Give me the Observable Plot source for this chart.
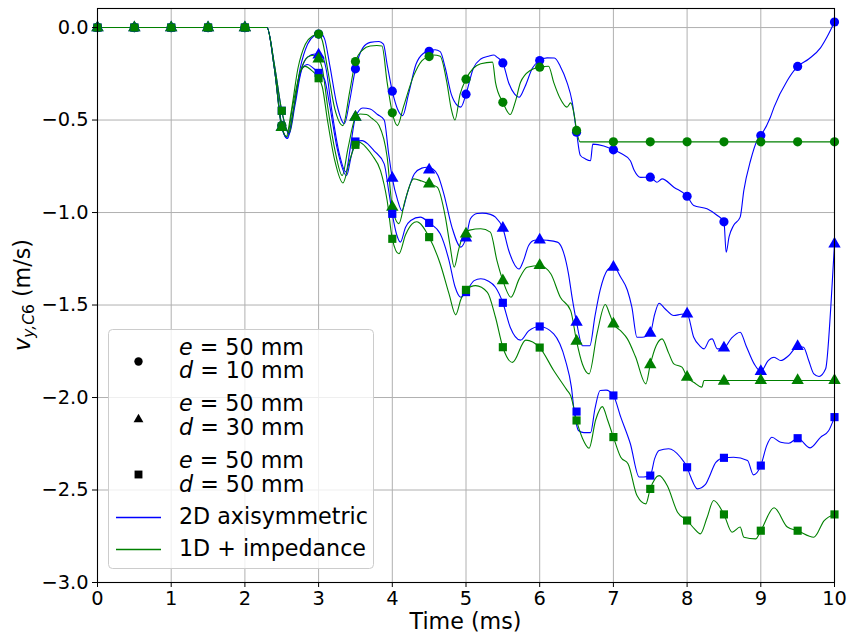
<!DOCTYPE html>
<html><head><meta charset="utf-8">
<script src="https://cdn.jsdelivr.net/npm/d3@7"></script>
<script src="https://cdn.jsdelivr.net/npm/@observablehq/plot@0.6"></script>
<style>body{margin:0;background:#fff} svg{display:block}</style>
</head><body><div id="chart"></div>
<script>
// ---- data (time in ms, velocity in m/s) ----
const xTicks = [0,1,2,3,4,5,6,7,8,9,10];
const yTicks = [0,-0.5,-1,-1.5,-2,-2.5,-3];
const markerT = [0,0.5,1,1.5,2,2.5,3,3.5,4,4.5,5,5.5,6,6.5,7,7.5,8,8.5,9,9.5,10];

const blue10 = [[0,0],[2.3,0],[2.4,-0.22],[2.5,-0.53],[2.57,-0.60],[2.65,-0.47],[2.75,-0.22],[2.85,-0.09],[2.95,-0.04],[3.02,-0.03],[3.08,-0.06],[3.15,-0.2],[3.25,-0.42],[3.35,-0.52],[3.42,-0.4],[3.5,-0.223],[3.6,-0.11],[3.7,-0.08],[3.82,-0.075],[3.88,-0.09],[3.93,-0.2],[4.0,-0.344],[4.07,-0.44],[4.14,-0.476],[4.22,-0.36],[4.32,-0.2],[4.42,-0.14],[4.5,-0.128],[4.58,-0.12],[4.65,-0.13],[4.72,-0.22],[4.8,-0.36],[4.88,-0.42],[4.93,-0.43],[5.0,-0.36],[5.1,-0.22],[5.2,-0.17],[5.3,-0.155],[5.38,-0.148],[5.42,-0.16],[5.5,-0.191],[5.58,-0.3],[5.66,-0.36],[5.72,-0.377],[5.8,-0.32],[5.9,-0.22],[6.0,-0.178],[6.1,-0.164],[6.2,-0.165],[6.28,-0.21],[6.37,-0.296],[6.44,-0.40],[6.5,-0.566],[6.55,-0.69],[6.62,-0.71],[6.69,-0.72],[6.72,-0.63],[6.87,-0.64],[7.0,-0.661],[7.1,-0.68],[7.23,-0.72],[7.28,-0.77],[7.37,-0.81],[7.5,-0.809],[7.59,-0.836],[7.66,-0.818],[7.82,-0.863],[8.0,-0.912],[8.09,-0.962],[8.27,-0.98],[8.41,-1.016],[8.5,-1.05],[8.53,-1.215],[8.57,-1.13],[8.63,-1.07],[8.72,-1.025],[8.77,-0.88],[8.86,-0.72],[8.95,-0.61],[9.0,-0.584],[9.13,-0.485],[9.18,-0.43],[9.36,-0.286],[9.5,-0.21],[9.65,-0.17],[9.81,-0.11],[9.9,-0.05],[10,0.03]];
const green10 = [[0,0],[2.3,0],[2.4,-0.22],[2.5,-0.53],[2.56,-0.59],[2.63,-0.45],[2.72,-0.22],[2.82,-0.09],[2.92,-0.045],[3.0,-0.035],[3.05,-0.07],[3.12,-0.22],[3.22,-0.44],[3.33,-0.53],[3.42,-0.35],[3.5,-0.184],[3.6,-0.12],[3.7,-0.10],[3.79,-0.097],[3.86,-0.10],[3.93,-0.296],[4.0,-0.461],[4.07,-0.53],[4.15,-0.43],[4.29,-0.26],[4.4,-0.18],[4.5,-0.157],[4.56,-0.148],[4.65,-0.155],[4.74,-0.296],[4.8,-0.44],[4.85,-0.50],[4.92,-0.36],[5.0,-0.279],[5.1,-0.22],[5.2,-0.196],[5.36,-0.187],[5.4,-0.296],[5.5,-0.404],[5.6,-0.47],[5.67,-0.40],[5.74,-0.296],[5.87,-0.232],[6.0,-0.214],[6.12,-0.209],[6.19,-0.296],[6.28,-0.385],[6.37,-0.43],[6.42,-0.407],[6.47,-0.476],[6.5,-0.556],[6.55,-0.618],[10,-0.618]];
const blue30 = [[0,0],[2.3,0],[2.4,-0.22],[2.5,-0.54],[2.58,-0.60],[2.66,-0.44],[2.75,-0.25],[2.85,-0.16],[2.95,-0.143],[3.05,-0.155],[3.1,-0.22],[3.18,-0.45],[3.28,-0.68],[3.37,-0.78],[3.43,-0.65],[3.5,-0.485],[3.6,-0.435],[3.7,-0.44],[3.8,-0.47],[3.89,-0.50],[3.95,-0.68],[4.0,-0.814],[4.07,-0.93],[4.13,-0.99],[4.2,-0.90],[4.3,-0.79],[4.4,-0.76],[4.47,-0.755],[4.55,-0.765],[4.62,-0.80],[4.7,-0.90],[4.81,-1.08],[4.93,-1.187],[5.0,-1.137],[5.06,-1.034],[5.15,-1.005],[5.22,-1.003],[5.33,-1.01],[5.4,-1.025],[5.5,-1.085],[5.58,-1.205],[5.72,-1.305],[5.78,-1.26],[5.85,-1.178],[5.93,-1.15],[6.0,-1.148],[6.1,-1.15],[6.24,-1.16],[6.3,-1.19],[6.39,-1.33],[6.44,-1.46],[6.5,-1.593],[6.58,-1.72],[6.68,-1.72],[6.75,-1.56],[6.82,-1.42],[6.92,-1.31],[7.0,-1.29],[7.1,-1.35],[7.19,-1.42],[7.25,-1.51],[7.32,-1.674],[7.39,-1.674],[7.5,-1.652],[7.56,-1.55],[7.62,-1.49],[7.7,-1.52],[7.82,-1.557],[7.92,-1.55],[8.0,-1.548],[8.09,-1.674],[8.17,-1.72],[8.23,-1.737],[8.3,-1.69],[8.34,-1.683],[8.41,-1.737],[8.5,-1.732],[8.6,-1.68],[8.72,-1.647],[8.8,-1.72],[8.91,-1.818],[9.0,-1.859],[9.1,-1.80],[9.18,-1.782],[9.27,-1.80],[9.38,-1.773],[9.5,-1.724],[9.58,-1.728],[9.65,-1.80],[9.72,-1.872],[9.79,-1.886],[9.88,-1.845],[9.95,-1.51],[10,-1.17]];
const green30 = [[0,0],[2.3,0],[2.4,-0.22],[2.5,-0.54],[2.57,-0.59],[2.65,-0.42],[2.75,-0.24],[2.85,-0.16],[2.93,-0.15],[3.0,-0.17],[3.05,-0.22],[3.12,-0.42],[3.22,-0.66],[3.32,-0.80],[3.4,-0.65],[3.5,-0.485],[3.56,-0.467],[3.65,-0.47],[3.72,-0.49],[3.82,-0.53],[3.93,-0.70],[4.0,-0.971],[4.09,-1.06],[4.17,-0.94],[4.29,-0.818],[4.4,-0.83],[4.5,-0.845],[4.61,-0.863],[4.72,-1.025],[4.78,-1.17],[4.84,-1.295],[4.9,-1.2],[4.97,-1.115],[5.05,-1.095],[5.2,-1.088],[5.33,-1.106],[5.42,-1.26],[5.5,-1.368],[5.61,-1.458],[5.72,-1.36],[5.83,-1.296],[6.0,-1.286],[6.15,-1.331],[6.28,-1.458],[6.42,-1.53],[6.5,-1.695],[6.58,-1.82],[6.67,-1.872],[6.78,-1.65],[6.89,-1.497],[6.95,-1.55],[7.0,-1.60],[7.1,-1.64],[7.19,-1.683],[7.3,-1.78],[7.44,-1.926],[7.5,-1.822],[7.58,-1.72],[7.66,-1.683],[7.75,-1.76],[7.82,-1.818],[7.93,-1.836],[8.0,-1.89],[8.1,-1.92],[8.2,-1.944],[8.23,-1.908],[10,-1.908]];
const blue50 = [[0,0],[2.3,0],[2.4,-0.2],[2.5,-0.45],[2.6,-0.575],[2.68,-0.42],[2.78,-0.22],[2.85,-0.2],[2.93,-0.22],[3.0,-0.245],[3.08,-0.28],[3.15,-0.42],[3.25,-0.65],[3.38,-0.80],[3.44,-0.7],[3.5,-0.616],[3.59,-0.611],[3.67,-0.63],[3.75,-0.665],[3.89,-0.737],[3.95,-0.88],[4.0,-1.007],[4.06,-1.12],[4.11,-1.16],[4.18,-1.08],[4.25,-1.043],[4.38,-1.025],[4.5,-1.056],[4.65,-1.115],[4.77,-1.26],[4.85,-1.40],[4.93,-1.458],[5.0,-1.43],[5.11,-1.368],[5.2,-1.358],[5.3,-1.37],[5.4,-1.404],[5.5,-1.488],[5.6,-1.62],[5.74,-1.69],[5.85,-1.64],[6.0,-1.616],[6.19,-1.656],[6.35,-1.80],[6.43,-1.944],[6.47,-2.08],[6.53,-2.18],[6.6,-2.19],[6.69,-2.19],[6.75,-2.06],[6.82,-1.962],[6.9,-1.96],[7.0,-1.989],[7.1,-2.106],[7.23,-2.25],[7.35,-2.43],[7.41,-2.43],[7.5,-2.422],[7.56,-2.33],[7.62,-2.286],[7.75,-2.277],[7.91,-2.323],[8.0,-2.377],[8.05,-2.43],[8.14,-2.494],[8.25,-2.47],[8.3,-2.43],[8.39,-2.35],[8.5,-2.326],[8.63,-2.323],[8.82,-2.34],[8.9,-2.418],[9.0,-2.368],[9.08,-2.26],[9.15,-2.215],[9.27,-2.242],[9.38,-2.247],[9.5,-2.22],[9.67,-2.272],[9.81,-2.215],[9.92,-2.18],[10,-2.106]];
const green50 = [[0,0],[2.3,0],[2.4,-0.2],[2.5,-0.45],[2.6,-0.57],[2.67,-0.42],[2.75,-0.24],[2.82,-0.21],[2.9,-0.23],[3.0,-0.274],[3.05,-0.32],[3.12,-0.5],[3.22,-0.72],[3.33,-0.84],[3.42,-0.72],[3.5,-0.634],[3.55,-0.62],[3.65,-0.65],[3.73,-0.692],[3.84,-0.773],[3.93,-0.935],[4.0,-1.142],[4.09,-1.223],[4.18,-1.12],[4.27,-1.061],[4.33,-1.05],[4.5,-1.133],[4.65,-1.277],[4.77,-1.44],[4.86,-1.553],[4.93,-1.47],[5.0,-1.418],[5.13,-1.395],[5.29,-1.431],[5.4,-1.566],[5.5,-1.728],[5.63,-1.81],[5.81,-1.69],[6.0,-1.73],[6.19,-1.854],[6.37,-1.96],[6.42,-1.99],[6.5,-2.124],[6.58,-2.22],[6.67,-2.274],[6.76,-2.12],[6.85,-2.049],[6.92,-2.12],[7.0,-2.214],[7.1,-2.323],[7.2,-2.359],[7.32,-2.53],[7.44,-2.575],[7.5,-2.494],[7.62,-2.422],[7.73,-2.476],[7.87,-2.62],[8.0,-2.665],[8.1,-2.71],[8.18,-2.737],[8.27,-2.65],[8.36,-2.557],[8.5,-2.632],[8.61,-2.728],[8.72,-2.70],[8.77,-2.755],[8.93,-2.764],[9.0,-2.72],[9.18,-2.596],[9.36,-2.70],[9.5,-2.72],[9.72,-2.755],[9.86,-2.665],[10,-2.632]];

const blue10M  = [0,0,0,0,0,-0.53,-0.035,-0.223,-0.344,-0.128,-0.36,-0.191,-0.178,-0.566,-0.661,-0.809,-0.912,-1.05,-0.584,-0.21,0.03];
const green10M = [0,0,0,0,0,-0.53,-0.035,-0.184,-0.461,-0.157,-0.279,-0.404,-0.214,-0.556,-0.618,-0.618,-0.618,-0.618,-0.618,-0.618,-0.618];
const blue30M  = [0,0,0,0,0,-0.54,-0.148,-0.485,-0.814,-0.77,-1.137,-1.085,-1.148,-1.593,-1.295,-1.652,-1.548,-1.732,-1.859,-1.724,-1.17];
const green30M = [0,0,0,0,0,-0.54,-0.17,-0.485,-0.971,-0.845,-1.115,-1.368,-1.286,-1.695,-1.602,-1.822,-1.89,-1.912,-1.908,-1.908,-1.908];
const blue50M  = [0,0,0,0,0,-0.45,-0.245,-0.616,-1.007,-1.056,-1.43,-1.488,-1.616,-2.076,-1.989,-2.422,-2.377,-2.326,-2.368,-2.22,-2.106];
const green50M = [0,0,0,0,0,-0.45,-0.274,-0.634,-1.142,-1.133,-1.418,-1.728,-1.73,-2.124,-2.214,-2.494,-2.665,-2.632,-2.72,-2.72,-2.632];

const seriesList = [
  {model:"2D", d:10, line:blue10,  marks:blue10M},
  {model:"1D", d:10, line:green10, marks:green10M},
  {model:"2D", d:30, line:blue30,  marks:blue30M},
  {model:"1D", d:30, line:green30, marks:green30M},
  {model:"2D", d:50, line:blue50,  marks:blue50M},
  {model:"1D", d:50, line:green50, marks:green50M}
];
const lineRows = [], dotRows = [];
seriesList.forEach((s,i) => {
  s.line.forEach(([t,v]) => lineRows.push({t, v, model:s.model, d:s.d, key:i}));
  s.marks.forEach((v,j) => dotRows.push({t:markerT[j], v, model:s.model, d:s.d, key:i}));
});

const FONT = "DejaVu Sans, Verdana, sans-serif";
const chart = Plot.plot({
  width: 850, height: 637,
  marginLeft: 97, marginRight: 16, marginTop: 8, marginBottom: 55,
  style: {fontFamily: FONT, background: "white", color: "black", overflow: "visible"},
  x: {domain: [0, 10]},
  y: {domain: [-3, 0.103]},
  color: {domain: ["2D","1D"], range: ["#0000ff", "#008000"]},
  symbol: {domain: [10,30,50], range: ["circle","triangle","square"]},
  marks: [
    Plot.gridX(xTicks, {stroke: "#b0b0b0", strokeOpacity: 1, strokeWidth: 1}),
    Plot.gridY(yTicks, {stroke: "#b0b0b0", strokeOpacity: 1, strokeWidth: 1}),
    Plot.line(lineRows, {x: "t", y: "v", z: "key", stroke: "model", curve: "monotone-x", strokeWidth: 1.1}),
    Plot.dot(dotRows, {x: "t", y: "v", fill: "model", symbol: "d", r: 4.6, stroke: "none"}),
    Plot.frame({stroke: "black", strokeWidth: 1.1}),
    Plot.axisX(xTicks, {tickSize: 5, tickPadding: 4, fontSize: 19.4, label: null, tickFormat: d => String(d)}),
    Plot.axisY(yTicks, {tickSize: 5, tickPadding: 4, fontSize: 19.4, label: null, tickFormat: d3.format(".1f")})
  ]
});
document.getElementById("chart").appendChild(chart);

// ---- labels and legend ----
const svg = d3.select(chart);
svg.append("text").attr("x", 465.5).attr("y", 629).attr("text-anchor", "middle")
  .attr("font-family", FONT).attr("font-size", 22.2).attr("fill", "black").text("Time (ms)");

const yl = svg.append("text").attr("transform", "translate(30,295) rotate(-90)")
  .attr("text-anchor", "middle").attr("font-family", FONT).attr("font-size", 22.2).attr("fill", "black");
yl.append("tspan").attr("font-style", "italic").text("v");
yl.append("tspan").attr("font-size", 15.5).attr("dy", 4).attr("font-style", "italic").text("y,C");
yl.append("tspan").attr("font-size", 15.5).text("6");
yl.append("tspan").attr("dy", -4).text(" (m/s)");

const lg = svg.append("g").attr("font-family", FONT).attr("font-size", 22.2).attr("fill", "black").attr("text-anchor", "start");
lg.append("rect").attr("x", 108.5).attr("y", 329.5).attr("width", 265).attr("height", 239)
  .attr("rx", 4).attr("fill", "white").attr("fill-opacity", 0.8).attr("stroke", "#cccccc");
const legEntries = [
  {sym: d3.symbolCircle, size: 55, cy: 361.5, d: "10", b1: 355, b2: 378},
  {sym: d3.symbolTriangle, size: 42, cy: 419.5, d: "30", b1: 411, b2: 435},
  {sym: d3.symbolSquare, size: 62, cy: 474.5, d: "50", b1: 468, b2: 492}
];
legEntries.forEach(e => {
  lg.append("path").attr("d", d3.symbol(e.sym, e.size)()).attr("transform", `translate(138.5,${e.cy})`).attr("fill", "black");
  const t1 = lg.append("text").attr("x", 179).attr("y", e.b1);
  t1.append("tspan").attr("font-style", "italic").text("e");
  t1.append("tspan").text(" = 50 mm");
  const t2 = lg.append("text").attr("x", 179).attr("y", e.b2);
  t2.append("tspan").attr("font-style", "italic").text("d");
  t2.append("tspan").text(` = ${e.d} mm`);
});
[["#0000ff", 517.5, 524, "2D axisymmetric"], ["#008000", 549.5, 556, "1D + impedance"]].forEach(([c, ly, by, txt]) => {
  lg.append("line").attr("x1", 116).attr("x2", 161).attr("y1", ly).attr("y2", ly).attr("stroke", c).attr("stroke-width", 1.3);
  lg.append("text").attr("x", 179).attr("y", by).text(txt);
});
</script>
</body></html>
